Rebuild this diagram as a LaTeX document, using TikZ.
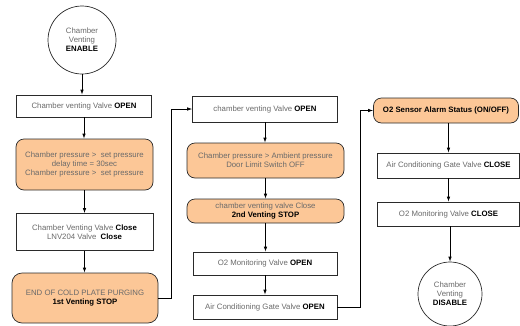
\documentclass[tikz,border=0pt]{standalone}
\usepackage{fontspec}
\setmainfont{Liberation Sans}
\usetikzlibrary{arrows.meta}
\definecolor{peach}{HTML}{FCC797}
\definecolor{txtgray}{HTML}{6A6A6A}
\definecolor{edge}{HTML}{2A2A2A}
\newcommand{\hb}[1]{\textcolor{black}{\bfseries #1}}
\tikzset{
  base/.style={draw=edge, line width=0.7pt, align=center, inner sep=0pt,
    text=txtgray, font=\fontsize{7.8}{9}\selectfont},
  plainbox/.style={base, fill=white, rectangle},
  roundbox/.style={base, fill=peach, rectangle, rounded corners=8pt},
  state/.style={base, fill=white, circle},
  arr/.style={line width=0.7pt, -{Latex[length=5pt,width=3.5pt]}},
}
\begin{document}
\begin{tikzpicture}[x=1pt,y=-1pt]
  \useasboundingbox (0,0) rectangle (520,325);

  % first venting stage
  \node[state, minimum size=68pt] (en) at (82,40)
    {Chamber\\Venting\\\hb{ENABLE}};
  \node[plainbox, minimum width=135pt, minimum height=22pt] (b1) at (84,106)
    {Chamber venting Valve \hb{OPEN}};
  \node[roundbox, minimum width=137pt, minimum height=51pt] (b2) at (84.5,164.5)
    {Chamber pressure \textgreater{}\ \ set pressure\\delay time = 30sec\\Chamber pressure \textgreater{}\ \ set pressure};
  \node[plainbox, minimum width=137pt, minimum height=37pt] (b3) at (84.5,232)
    {Chamber Venting Valve \hb{Close}\\LNV204 Valve\ \ \hb{Close}};
  \node[roundbox, rounded corners=10pt, minimum width=146pt, minimum height=50pt] (b4) at (85,298)
    {END OF COLD PLATE PURGING\\\hb{1st Venting STOP}};

  % second venting stage
  \node[plainbox, minimum width=145pt, minimum height=26pt] (m1) at (265,109)
    {chamber venting Valve \hb{OPEN}};
  \node[roundbox, minimum width=157pt, minimum height=35pt] (m2) at (265.5,160.5)
    {Chamber pressure \textgreater{} Ambient pressure\\Door Limit Switch OFF};
  \node[roundbox, minimum width=157pt, minimum height=24pt] (m3) at (265.5,211)
    {chamber venting valve Close\\\hb{2nd Venting STOP}};
  \node[plainbox, minimum width=144pt, minimum height=23pt] (m4) at (265,263.5)
    {O2 Monitoring Valve \hb{OPEN}};
  \node[plainbox, minimum width=144pt, minimum height=24pt] (m5) at (265,307)
    {Air Conditioning Gate Valve \hb{OPEN}};

  % shutdown stage
  \node[roundbox, minimum width=145pt, minimum height=25pt] (r1) at (446,110.5)
    {\hb{O2 Sensor Alarm Status (ON/OFF)}};
  \node[plainbox, minimum width=142pt, minimum height=25pt] (r2) at (448.5,165.5)
    {Air Conditioning Gate Valve \hb{CLOSE}};
  \node[plainbox, minimum width=142pt, minimum height=24pt] (r3) at (448.5,214)
    {O2 Monitoring Valve \hb{CLOSE}};
  \node[state, minimum size=64pt] (dis) at (450,294)
    {Chamber\\Venting\\\hb{DISABLE}};

  % vertical flow
  \draw[arr] (en.south) -- (en.south |- b1.north);
  \draw[arr] (b1.south) -- (b1.south |- b2.north);
  \draw[arr] (b2.south) -- (b2.south |- b3.north);
  \draw[arr] (b3.south) -- (b3.south |- b4.north);

  \draw[arr] (m1.south) -- (m1.south |- m2.north);
  \draw[arr] (m2.south) -- (m2.south |- m3.north);
  \draw[arr] (m3.south) -- (m3.south |- m4.north);
  \draw[arr] (m4.south) -- (m4.south |- m5.north);

  \draw[arr] (r1.south -| r2) -- (r2.north);
  \draw[arr] (r2.south) -- (r2.south |- r3.north);
  \draw[arr] (r3.south -| dis) -- (dis.north);

  % links between stages
  \coordinate (j1) at (171,0);
  \coordinate (j2) at (360,0);
  \draw[arr] (b4.east) -- (b4.east -| j1) |- (m1.west);
  \draw[arr] (m5.east) -- (m5.east -| j2) |- (r1.west);
\end{tikzpicture}
\end{document}
